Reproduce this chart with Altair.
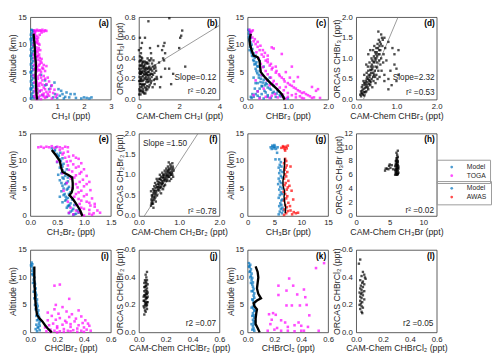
import altair as alt
import pandas as pd

FONT = "Liberation Sans"
BLUE = "#0072BD"
MAG = "#FF00FF"
RED = "#FF0000"
INK = "#262626"
W, H = 83, 85

# ---------------- data ----------------
# (a) CH3I profiles: (ppt, km)
A_MODEL = [(0.02,0.2),(0.06,0.4),(0.1,0.6),(0.04,0.9),(0.08,1.2),(0.12,1.5),(0.03,1.8),(0.07,2.1),(0.11,2.4),(0.05,2.7),(0.09,3.0),(0.02,3.3),(0.06,3.6),(0.1,3.9),(0.04,4.2),(0.08,4.5),(0.03,4.9),(0.07,5.2),(0.11,5.5),(0.05,5.8),(0.09,6.1),(0.02,6.4),(0.06,6.7),(0.1,7.0),(0.04,7.3),(0.08,7.6),(0.03,7.9),(0.07,8.2),(0.05,8.5),(0.09,8.8),(0.02,9.1),(0.06,9.4),(0.1,9.7),(0.04,10.0),(0.08,10.3),(0.03,10.6),(0.07,10.9),(0.05,11.2),(0.09,11.5),(0.02,11.8),(0.06,12.1),(0.1,12.4),(0.04,12.7),(0.08,12.6),(0.12,12.5),(0.01,2.0),(0.01,5.0),(0.01,8.0),(0.01,11.0),(0.13,0.3),
           (0.3,0.3),(0.45,0.8),(0.55,2.6),(0.55,3.5),(0.62,0.5),(0.7,1.9),(0.78,2.5),(0.85,0.4),(0.9,3.1),(0.92,1.0),(1.0,0.3),(1.05,1.9),(1.1,0.7),(1.2,1.0),(1.25,0.2),(1.3,0.5),(1.35,1.3),(1.45,0.4),(1.5,1.0),(1.65,1.0),(1.7,0.3),(1.9,0.2),(2.0,0.4),(2.1,0.3),(2.2,0.2),(2.28,0.4),(0.4,4.5),(0.35,1.5),(1.15,1.6),(0.6,2.7)]
A_TOGA = [(0.15,12.6),(0.2,12.5),(0.25,12.7),(0.3,12.5),(0.35,12.6),(0.4,12.5),(0.45,12.7),(0.5,12.4),(0.55,12.6),(0.6,12.5),(0.18,12.3),(0.42,12.2),
          (0.15,11.5),(0.25,11.0),(0.2,10.5),(0.3,10.2),(0.12,10.0),(0.22,9.5),(0.28,9.0),(0.18,8.5),(0.33,8.2),(0.25,8.0),(0.15,7.5),(0.3,7.2),(0.38,7.0),
          (0.14,11.9),(0.19,11.2),(0.27,10.7),(0.16,9.8),(0.31,9.4),(0.2,8.8),(0.13,8.2),(0.24,7.7),(0.35,7.6),(0.19,7.1),
          (0.2,6.8),(0.35,6.5),(0.5,6.3),(0.6,6.1),(0.25,6.0),(0.45,5.8),(0.15,5.5),(0.3,5.3),(0.55,5.2),(0.4,5.0),(0.14,6.3),(0.22,5.1),
          (0.2,4.7),(0.35,4.5),(0.5,4.3),(0.65,4.0),(0.28,3.8),(0.45,3.5),(0.7,3.3),(0.15,3.1),(0.38,3.0),(0.6,2.8),(0.8,2.6),(0.25,2.4),(0.5,2.2),(0.75,2.0),(0.9,1.8),(0.35,1.6),(0.6,1.4),(0.85,1.2),(0.2,1.0),(0.45,0.9),(0.7,0.7),(0.95,0.5),(0.3,0.4),(0.55,0.3),(0.8,0.2),(0.4,0.1),(0.65,1.0),(1.0,0.9),
          (0.13,4.4),(0.24,3.3),(0.18,2.0),(0.3,2.9),(0.15,0.6),(0.25,0.1),
          (0.17,12.0),(0.23,11.6),(0.29,11.3),(0.35,11.8),(0.13,10.7),(0.24,10.3),(0.34,10.0),(0.19,9.2),(0.27,8.6),(0.37,9.0),(0.16,8.0),(0.29,7.9),(0.42,7.4),(0.22,6.6),(0.32,6.2),(0.42,6.7),(0.18,5.8),(0.27,5.6),(0.37,5.4),(0.48,5.6),(0.17,4.0),(0.27,4.2),(0.4,4.0),(0.55,3.8),(0.21,2.8),(0.33,2.5),(0.45,2.7),(0.27,1.9),(0.42,1.7),(0.55,1.9),(0.17,1.5),(0.28,1.2),(0.5,1.1),(0.35,0.7),(0.6,0.5),(0.2,0.3),(0.72,1.4),(0.5,0.6)]
A_MEAN = [(0.25,0),(0.23,1),(0.22,2),(0.21,3),(0.2,4),(0.2,5),(0.21,6),(0.2,7),(0.18,8),(0.17,9),(0.16,10),(0.14,11),(0.12,12)]

# (b) CAM-Chem vs ORCAS CH3I
B_PTS = [(0.02,0.1),(0.05,0.15),(0.08,0.2),(0.1,0.25),(0.12,0.3),(0.15,0.35),(0.03,0.22),(0.06,0.28),(0.09,0.33),(0.11,0.38),(0.14,0.12),(0.18,0.18),(0.2,0.23),(0.22,0.28),(0.25,0.32),(0.28,0.37),(0.3,0.15),(0.33,0.2),(0.35,0.25),(0.38,0.3),(0.4,0.35),(0.42,0.1),(0.45,0.17),(0.48,0.22),(0.5,0.27),(0.52,0.32),(0.55,0.2),(0.58,0.25),(0.6,0.3),(0.04,0.33),(0.07,0.38),(0.13,0.08),(0.17,0.26),(0.19,0.31),(0.24,0.14),(0.27,0.21),(0.32,0.29),(0.36,0.09),(0.41,0.24),(0.46,0.3),(0.01,0.18),(0.16,0.4),(0.21,0.36),(0.26,0.06),(0.31,0.34),(0.37,0.17),(0.44,0.27),(0.53,0.14),(0.62,0.18),(0.7,0.24),(0.75,0.3),(0.8,0.2),(0.65,0.35),(0.05,0.42),(0.1,0.45),(0.02,0.3),(0.08,0.05),(0.23,0.19),(0.29,0.24),(0.34,0.11),(0.68,0.12),(0.72,0.38),(0.78,0.15),(0.85,0.28),(0.88,0.22),(0.64,0.25),(0.57,0.38),(0.49,0.12),(0.43,0.4),(0.39,0.19),(0.12,0.2),(0.06,0.25),(0.15,0.27),(0.27,0.3),(0.33,0.36),(0.2,0.1),(0.1,0.15),(0.03,0.37),(0.47,0.35),(0.54,0.24),
         (0.01,0.05),(0.04,0.08),(0.07,0.12),(0.09,0.09),(0.11,0.18),(0.13,0.22),(0.16,0.14),(0.19,0.07),(0.21,0.15),(0.23,0.33),(0.26,0.25),(0.28,0.12),(0.31,0.27),(0.34,0.31),(0.36,0.22),(0.39,0.36),(0.41,0.13),(0.44,0.2),(0.46,0.24),(0.48,0.31),(0.51,0.18),(0.56,0.29),(0.59,0.16),(0.63,0.22),(0.66,0.28),(0.69,0.32),(0.74,0.19),(0.77,0.26),(0.82,0.31),(0.06,0.18),(0.09,0.27),(0.14,0.33),(0.18,0.37),(0.22,0.08),(0.32,0.06),(0.38,0.26),(0.5,0.38),(0.61,0.4),(0.03,0.26),(0.12,0.41),
         (0.47,0.76),(1.51,0.79),(2.15,0.67),(2.1,0.62),(2.05,0.6),(1.27,0.55),(1.22,0.52),(1.3,0.45),(1.2,0.4),(1.0,0.36),(1.5,0.3),(1.7,0.25),(2.0,0.5),(0.1,0.5),(0.05,0.6),(0.3,0.6),(0.6,0.45),(0.8,0.33),(1.6,0.15),(2.3,0.32),(1.25,0.38),(0.9,0.2),(1.1,0.22),(0.95,0.52),(1.15,0.48),(0.15,0.55),(1.3,0.3),(0.55,0.5),(1.05,0.12),(0.0,0.48)]
B_FIT = [0.12, 0.24]   # slope, intercept

# (c) CHBr3 profiles
C_MODEL = [(0.02,12.7),(0.04,12.5),(0.06,12.3),(0.03,12.0),(0.05,11.6),(0.08,11.2),(0.04,10.8),(0.07,10.4),(0.1,10.0),(0.06,9.6),(0.12,9.2),(0.09,8.8),(0.15,8.4),(0.11,8.0),(0.18,7.6),(0.14,7.2),(0.22,6.8),(0.17,6.4),(0.26,6.0),(0.2,5.6),(0.3,5.2),(0.24,4.8),(0.35,4.4),(0.28,4.0),(0.4,3.6),(0.32,3.2),(0.48,2.8),(0.36,2.4),(0.55,2.0),(0.42,1.6),(0.62,1.2),(0.5,0.8),(0.7,0.5),(0.58,0.3),(0.15,0.5),(0.2,1.0),(0.25,1.5),(0.3,2.0),(0.35,2.5),(0.45,3.0),(0.5,3.5),(0.55,4.0),(0.12,1.0),(0.1,0.3),(0.8,0.8),(0.9,0.4),(1.0,0.2),(0.65,2.5),(0.05,9.0),(0.3,7.0),(0.2,8.0),(0.4,6.0),(0.08,0.5),(0.75,1.5),
           (0.03,11.3),(0.06,10.5),(0.08,9.7),(0.1,8.5),(0.13,7.9),(0.16,7.0),(0.2,6.5),(0.24,6.1),(0.22,5.2),(0.28,4.5),(0.33,3.8),(0.38,3.1),(0.43,2.6),(0.5,2.2),(0.58,1.8),(0.65,1.4),(0.72,1.1),(0.82,0.6),(0.25,0.7),(0.35,1.0),(0.45,1.3),(0.3,0.4),(0.4,0.2),(0.5,0.5),(0.18,2.0),(0.25,3.0),(0.15,4.0),(0.2,3.0)]
C_TOGA = [(0.05,12.7),(0.1,12.4),(0.08,11.8),(0.12,11.3),(0.15,10.6),(0.2,10.1),(0.25,9.6),(0.3,9.0),(0.22,8.6),(0.35,8.2),(0.4,7.8),(0.28,7.5),(0.45,7.1),(0.5,6.8),(0.33,6.5),(0.55,6.2),(0.38,5.9),(0.6,5.5),(0.45,5.2),(0.7,4.9),(0.5,4.6),(0.8,4.3),(0.58,4.0),(0.9,3.7),(0.65,3.4),(1.0,3.0),(0.72,2.8),(1.1,2.5),(0.8,2.2),(1.2,2.0),(0.9,1.7),(1.3,1.5),(1.0,1.2),(1.45,1.0),(1.1,0.8),(1.55,0.6),(1.2,0.4),(1.7,1.6),(1.75,1.9),(1.6,0.3),(0.3,0.2),(0.45,0.5),(0.6,0.7),(0.75,0.4),(0.95,0.2),(1.35,0.3),(0.25,1.5),(0.4,2.0),(0.55,2.6),(0.2,3.5),(0.35,4.5),(0.6,9.5),(0.65,9.3),(0.85,8.3),(0.5,8.0),(0.7,6.0),(0.95,5.0),(1.05,4.0),(1.15,3.3),(1.4,1.3),(0.15,0.8),(1.0,0.5),(0.68,1.0),(0.88,0.9),(1.1,6.0),(1.25,4.1),(1.6,2.3),
          (0.07,12.2),(0.13,12.6),(0.18,11.0),(0.25,10.5),(0.32,9.8),(0.38,9.0),(0.43,8.5),(0.5,7.3),(0.58,6.5),(0.62,5.8),(0.72,5.2),(0.78,4.6),(0.85,4.0),(0.92,3.3),(1.05,2.7),(1.15,2.2),(1.25,1.7),(1.35,1.2),(1.5,0.8),(1.3,0.6),(1.65,0.4),(1.4,0.2),(1.8,0.3),(1.2,1.0),(0.85,0.6),(0.55,0.3),(0.75,1.8),(0.95,2.3),(0.62,3.0),(0.48,3.5)]
C_MEAN = [(0.92,0),(0.85,1),(0.72,2),(0.57,3),(0.44,4),(0.33,5),(0.31,6),(0.3,7),(0.25,7.7),(0.15,8),(0.1,9),(0.06,10),(0.05,11),(0.08,12)]

# (d) CHBr3 scatter
D_PTS = [(0.1,0.12),(0.12,0.2),(0.15,0.15),(0.18,0.25),(0.2,0.1),(0.14,0.3),(0.22,0.35),(0.25,0.2),(0.2,0.4),(0.28,0.3),(0.24,0.45),(0.3,0.5),(0.32,0.38),(0.27,0.55),(0.35,0.6),(0.3,0.7),(0.38,0.5),(0.4,0.75),(0.36,0.8),(0.42,0.65),(0.45,0.9),(0.4,0.95),(0.48,0.8),(0.44,1.05),(0.5,1.0),(0.47,1.15),(0.52,0.9),(0.5,1.25),(0.55,1.1),(0.53,1.35),(0.58,1.3),(0.56,1.45),(0.6,1.2),(0.45,1.3),(0.38,1.0),(0.33,0.9),(0.26,0.65),(0.18,0.45),(0.16,0.35),(0.12,0.08),(0.3,0.25),(0.35,0.35),(0.43,0.45),(0.5,0.6),(0.55,0.7),(0.6,0.85),(0.48,0.4),(0.4,0.3),(0.58,0.55),(0.62,1.0),
         (0.15,0.22),(0.19,0.18),(0.21,0.28),(0.23,0.4),(0.26,0.5),(0.28,0.42),(0.31,0.6),(0.33,0.55),(0.35,0.72),(0.37,0.65),(0.39,0.85),(0.41,0.8),(0.43,0.92),(0.46,1.0),(0.49,1.1),(0.51,1.15),(0.54,1.25),(0.57,1.2),(0.59,1.4),(0.61,1.35),(0.64,1.5),(0.66,1.45),(0.42,1.2),(0.47,0.55),(0.53,0.5),(0.57,0.95),(0.63,0.7),(0.67,0.9),(0.29,0.8),(0.22,0.18),(0.17,0.12),(0.13,0.15),(0.36,0.42),(0.44,0.6),(0.48,0.95),(0.38,0.72),(0.32,0.47),(0.27,0.36),(0.52,1.05),(0.58,1.1),
         (0.9,1.25),(1.05,1.2),(0.95,1.1),(1.0,0.75),(0.85,0.7),(0.7,0.45),(0.8,0.5),(0.55,1.65),(0.62,1.58),(0.7,1.5),(1.0,0.45),(0.8,0.25),(0.7,0.6),(0.75,0.95),(0.68,1.1),(0.88,0.35),(0.2,0.6),(0.25,0.85),(0.3,1.1),(0.35,1.2),(0.65,1.3),(0.72,1.25),(0.8,1.4),(1.05,0.6),(0.95,0.85),(0.25,0.3),(0.34,0.45),(0.42,0.55),(0.46,0.7),(0.52,0.78)]
D_FIT = [2.32, -0.41]

# (e) CH2Br2 profiles
E_MODEL = [(0.4,12.3),(0.45,11.8),(0.5,11.3),(0.52,10.8),(0.55,10.3),(0.5,9.8),(0.58,9.3),(0.55,8.8),(0.6,8.3),(0.58,7.8),(0.65,7.3),(0.62,6.8),(0.7,6.3),(0.65,5.8),(0.72,5.3),(0.68,4.8),(0.75,4.3),(0.62,3.8),(0.7,3.3),(0.65,2.8),(0.75,2.3),(0.7,1.8),(0.8,1.3),(0.75,0.8),(0.85,0.4),(0.8,0.2),(0.9,0.6),(0.6,10.5),(0.62,9.5),(0.68,8.5),(0.55,6.5),(0.6,5.5),(0.58,4.5),(0.55,3.5),(0.6,2.5),(0.68,1.5),(0.72,0.5),(0.48,12.5),(0.52,7.5),(0.78,3.0),(0.82,2.0),(0.88,1.0),(0.64,4.0),(0.7,7.0),
           (0.46,12.0),(0.53,11.0),(0.57,10.0),(0.6,9.0),(0.64,8.0),(0.6,7.0),(0.67,6.0),(0.7,5.0),(0.72,4.0),(0.67,3.0),(0.72,2.0),(0.78,1.0),(0.82,0.3),(0.58,6.0),(0.62,5.0),(0.66,3.5),(0.73,1.8),(0.56,11.5)]
E_TOGA = [(0.15,12.5),(0.2,12.6),(0.25,12.4),(0.3,12.6),(0.35,12.5),(0.4,12.7),(0.45,12.4),(0.5,12.6),(0.55,12.5),(0.6,12.3),(0.65,12.6),(0.7,12.5),
          (0.55,12.0),(0.7,11.7),(0.6,11.2),(0.8,11.0),(0.65,10.6),(0.9,10.4),(0.75,10.0),(0.95,9.6),(0.7,9.2),(0.85,8.8),(1.0,8.5),(0.78,8.1),(0.92,7.7),(1.05,7.3),(0.82,7.0),(0.98,6.6),(1.1,6.2),(0.85,5.8),(1.0,5.4),(0.78,5.0),(1.12,4.7),(0.9,4.3),(1.05,3.9),(0.82,3.5),(1.15,3.2),(0.95,2.8),(1.1,2.4),(0.85,2.0),(1.2,1.7),(1.0,1.3),(1.25,1.0),(0.9,0.7),(1.1,0.4),(1.3,0.6),(0.8,0.3),(1.0,0.1),(0.75,1.5),(0.7,2.6),(0.62,4.6),(0.68,6.0),(0.6,7.8),(0.5,9.9),(1.15,0.2),(1.2,2.2),
          (0.62,11.5),(0.72,10.8),(0.85,10.6),(0.68,9.9),(0.8,9.4),(0.9,9.0),(0.72,8.4),(0.95,8.0),(0.85,7.4),(0.75,6.8),(0.92,6.2),(1.05,5.8),(0.88,5.2),(0.95,4.6),(0.85,4.0),(1.0,3.6),(0.9,3.1),(1.05,2.6),(0.92,2.2),(1.12,1.9),(0.95,1.5),(1.1,1.1),(0.85,1.0),(1.18,0.5),(0.95,0.4),(0.72,0.6)]
E_MEAN = [(0.97,0),(0.93,1),(0.87,2),(0.8,3),(0.73,3.8),(0.77,4.3),(0.79,5),(0.79,6),(0.78,7),(0.7,7.5),(0.6,8),(0.57,9),(0.55,10),(0.48,11),(0.4,12)]

# (f) CH2Br2 scatter
F_PTS = [(0.3,0.25),(0.32,0.35),(0.35,0.3),(0.33,0.45),(0.38,0.4),(0.36,0.55),(0.4,0.5),(0.3,0.6),(0.35,0.65),(0.42,0.6),(0.38,0.72),(0.45,0.7),(0.4,0.8),(0.48,0.65),(0.5,0.75),(0.46,0.85),(0.52,0.8),(0.55,0.7),(0.5,0.9),(0.57,0.85),(0.55,0.95),(0.6,0.8),(0.6,0.92),(0.62,1.0),(0.58,1.05),(0.65,0.9),(0.66,1.05),(0.68,0.95),(0.7,1.1),(0.72,1.0),(0.74,1.12),(0.75,0.95),(0.78,1.05),(0.8,1.15),(0.82,1.05),(0.84,1.2),(0.78,1.25),(0.72,1.2),(0.85,0.95),(0.8,0.9),(0.7,0.85),(0.65,0.75),(0.6,0.65),(0.55,0.55),(0.45,0.5),(0.42,0.35),(0.36,0.2),(0.32,0.5),(0.44,0.9),(0.52,1.0),(0.62,0.72),(0.68,1.15),(0.76,0.85),(0.86,1.1),(0.33,0.3),(0.39,0.62),(0.47,0.78),(0.53,0.68),(0.58,0.78),(0.63,0.88),(0.74,1.3),(0.83,1.28),
         (0.31,0.4),(0.34,0.5),(0.37,0.45),(0.39,0.55),(0.41,0.68),(0.43,0.75),(0.46,0.62),(0.49,0.82),(0.51,0.7),(0.54,0.88),(0.56,0.8),(0.59,0.95),(0.61,0.85),(0.63,0.95),(0.64,1.1),(0.67,1.0),(0.69,0.9),(0.71,1.05),(0.73,0.95),(0.75,1.15),(0.77,1.0),(0.79,1.2),(0.81,1.1),(0.83,1.0),(0.85,1.15),(0.34,0.38),(0.37,0.6),(0.4,0.45),(0.43,0.55),(0.47,0.7),(0.5,0.62),(0.53,0.9),(0.56,0.75),(0.6,1.0),(0.66,0.85),(0.7,0.98),(0.73,1.08),(0.76,1.05),(0.8,1.0),(0.31,0.3)]
F_FIT = [1.50, -0.2]

# (g) CH3Br profiles
G_MODEL = [(5.8,0.3),(6.0,0.8),(6.2,1.3),(5.9,1.8),(6.1,2.3),(6.3,2.8),(5.8,3.3),(6.0,3.8),(6.2,4.3),(5.9,4.8),(6.1,5.3),(5.7,5.8),(6.0,6.3),(5.8,6.8),(6.2,7.3),(5.9,7.8),(6.1,8.3),(5.8,8.8),(6.0,9.3),(6.2,9.8),(5.9,10.3),(5.2,10.3),(5.5,11.5),(6.4,0.5),(6.5,1.5),(6.3,2.0),(6.5,3.0),(6.4,4.0),(6.5,5.0),(6.3,6.0),(6.4,7.0),(6.5,8.0),(6.3,9.0),(6.6,1.0),
           (4.3,12.5),(4.6,12.8),(4.9,12.3),(5.1,12.6),(5.3,12.2),(4.5,12.2),(5.0,12.9),(5.6,12.5),(4.8,12.6)]
G_AWAS = [(6.8,0.2),(7.2,0.5),(7.5,0.9),(6.9,1.2),(7.3,1.6),(7.0,2.0),(7.6,2.4),(6.8,2.8),(7.2,3.2),(7.4,3.6),(7.0,4.0),(6.7,4.4),(7.3,4.8),(7.5,5.2),(6.9,5.6),(7.1,6.0),(7.6,6.4),(6.8,6.8),(7.2,7.2),(7.0,7.6),(7.4,8.0),(6.9,8.4),(7.1,8.8),(7.3,9.2),(6.8,9.6),(7.2,10.0),(7.0,10.4),(8.0,1.0),(8.3,0.3),(8.6,0.7),(9.0,0.5),(9.4,0.6),(8.5,3.0),(8.2,4.6),(7.8,5.5),(8.0,9.0),(7.9,1.8),
          (6.3,12.4),(6.6,12.7),(6.9,12.2),(7.1,12.6),(7.3,12.3),(7.5,12.8),(6.7,12.5),(7.0,11.9)]
G_MEAN = [(7.0,0.5),(7.1,1.5),(6.9,2.5),(6.8,3.5),(6.9,4.5),(6.6,5.5),(6.6,6.5),(6.8,7.5),(6.8,8.5),(6.9,9.5),(6.9,10.5)]

# (h) CH3Br scatter
H_PTS = [(5.8,6.0),(6.0,6.2),(6.2,6.1),(5.9,6.4),(6.1,6.5),(6.3,6.3),(5.8,6.7),(6.0,6.8),(6.2,6.6),(5.9,7.0),(6.1,7.1),(6.3,6.9),(6.0,7.3),(6.2,7.4),(5.9,7.6),(6.1,7.7),(6.0,7.9),(6.2,8.0),(6.1,8.2),(6.0,8.4),(6.2,8.6),(6.1,8.9),(6.0,9.2),(6.2,9.5),(5.9,8.0),(6.3,7.2),(5.8,7.3),(6.1,6.0),(6.2,6.2),
         (6.0,6.0),(5.9,6.2),(6.1,6.8),(6.0,7.5),(6.1,7.4),(6.2,7.8),(6.0,8.1),(6.1,8.5),(5.9,6.6),(6.2,7.0),
         (4.3,6.6),(4.6,6.9),(4.9,7.3),(5.1,7.0),(5.3,7.4),(5.5,6.8),(4.8,6.8),(5.0,7.5),(4.4,6.9)]

# (i) CHClBr2 profiles
I_MODEL = [(0.01,12.7),(0.015,12.4),(0.01,12.0),(0.02,11.6),(0.015,11.2),(0.025,10.8),(0.02,10.4),(0.03,10.0),(0.025,9.6),(0.03,9.2),(0.035,8.8),(0.03,8.4),(0.04,8.0),(0.035,7.6),(0.04,7.2),(0.045,6.8),(0.04,6.4),(0.05,6.0),(0.045,5.6),(0.05,5.2),(0.055,4.8),(0.05,4.4),(0.06,4.0),(0.055,3.6),(0.06,3.2),(0.065,2.8),(0.06,2.4),(0.07,2.0),(0.065,1.6),(0.07,1.2),(0.06,0.8),(0.07,0.4),(0.05,0.2),(0.055,1.0),(0.05,2.2),(0.045,3.0),(0.04,4.2),(0.035,5.0),(0.03,6.2),(0.025,7.4),(0.02,9.0),(0.015,10.6),(0.005,12.2),(0.045,1.4),(0.04,0.6)]
I_TOGA = [(0.12,0.2),(0.15,0.5),(0.18,0.3),(0.2,0.8),(0.22,0.2),(0.25,0.6),(0.28,0.3),(0.3,1.0),(0.32,0.4),(0.35,0.7),(0.38,0.3),(0.4,0.9),(0.42,0.5),(0.45,0.3),(0.44,1.2),(0.14,1.3),(0.17,1.6),(0.2,1.1),(0.24,1.4),(0.27,1.8),(0.3,1.5),(0.33,2.0),(0.36,1.3),(0.39,1.7),(0.41,2.2),(0.19,2.3),(0.22,2.6),(0.26,2.1),(0.29,2.8),(0.34,2.5),(0.38,2.9),(0.16,3.0),(0.13,2.2),(0.21,3.4),(0.31,3.3),(0.27,3.8),(0.18,4.2),(0.36,4.0),(0.24,4.6),(0.29,6.1),(0.18,8.5),(0.22,8.7),(0.19,5.0),(0.11,0.9),(0.13,3.6),(0.4,0.1),(0.35,0.1),(0.25,0.1),(0.15,0.1),(0.2,0.0),(0.3,0.2),(0.43,1.6)]
I_MEAN = [(0.16,0),(0.13,0.7),(0.11,1.3),(0.09,2),(0.07,2.5),(0.05,3.2),(0.045,4),(0.04,5),(0.037,6),(0.035,7),(0.033,8),(0.032,9),(0.03,10),(0.03,11),(0.03,12)]

# (j) CHClBr2 scatter
J_PTS = [(0.04,0.13),(0.05,0.15),(0.06,0.17),(0.035,0.19),(0.045,0.2),(0.055,0.21),(0.065,0.22),(0.04,0.23),(0.05,0.24),(0.06,0.25),(0.035,0.26),(0.045,0.27),(0.055,0.28),(0.065,0.29),(0.04,0.3),(0.05,0.31),(0.06,0.32),(0.045,0.33),(0.055,0.34),(0.065,0.35),(0.04,0.36),(0.05,0.37),(0.06,0.38),(0.055,0.4),(0.05,0.42),(0.06,0.44),(0.04,0.18),(0.06,0.2),(0.045,0.22),(0.055,0.25),(0.05,0.29),(0.06,0.3),(0.04,0.33),(0.065,0.26),(0.035,0.23),
         (0.045,0.16),(0.055,0.19),(0.05,0.21),(0.04,0.27),(0.06,0.28),(0.05,0.34),(0.045,0.38),(0.055,0.36),(0.05,0.26),(0.06,0.22)]

# (k) CHBrCl2 profiles
K_MODEL = [(0.01,12.6),(0.02,12.3),(0.015,11.9),(0.025,11.5),(0.02,11.1),(0.03,10.7),(0.025,10.3),(0.035,9.9),(0.03,9.5),(0.04,9.1),(0.035,8.7),(0.04,8.3),(0.045,7.9),(0.04,7.5),(0.05,7.1),(0.045,6.7),(0.05,6.3),(0.04,5.9),(0.045,5.5),(0.05,5.1),(0.04,4.7),(0.045,4.3),(0.05,3.9),(0.04,3.5),(0.045,3.1),(0.05,2.7),(0.04,2.3),(0.045,1.9),(0.05,1.5),(0.04,1.1),(0.045,0.7),(0.05,0.3),(0.035,0.5),(0.03,1.5),(0.035,3.0),(0.03,4.5),(0.035,6.0),(0.03,7.5),(0.025,9.0),(0.02,10.0),(0.015,11.0),(0.01,12.0),(0.055,2.0),(0.055,4.0)]
K_TOGA = [(0.57,12.6),(0.51,11.7),(0.31,9.8),(0.23,8.5),(0.29,7.6),(0.34,8.5),(0.42,7.8),(0.23,6.8),(0.37,6.9),(0.43,6.4),(0.29,4.9),(0.33,4.9),(0.39,4.9),(0.44,5.0),(0.46,3.1),(0.16,3.3),(0.19,3.5),(0.21,3.2),(0.18,2.3),(0.25,2.2),(0.28,1.8),(0.17,1.5),(0.38,1.8),(0.35,1.3),(0.3,1.0),(0.22,0.8),(0.2,0.5),(0.25,0.3),(0.3,0.3),(0.35,0.2),(0.4,0.3),(0.42,0.3),(0.53,0.3),(0.15,0.3),(0.45,1.0),(0.4,1.2)]
K_MEAN = [(0.09,0),(0.075,0.8),(0.06,1.5),(0.06,2.5),(0.065,3.5),(0.07,4.2),(0.05,4.8),(0.045,5.3),(0.07,5.8),(0.1,6.2),(0.08,7),(0.07,8),(0.075,9),(0.08,10),(0.075,11),(0.06,12)]

# (l) CHBrCl2 scatter
L_PTS = [(0.03,0.53),(0.02,0.5),(0.05,0.44),(0.06,0.42),(0.04,0.41),(0.065,0.4),(0.07,0.39),(0.03,0.38),(0.05,0.37),(0.045,0.36),(0.06,0.35),(0.035,0.34),(0.05,0.33),(0.03,0.32),(0.04,0.31),(0.06,0.3),(0.025,0.29),(0.045,0.29),(0.035,0.28),(0.05,0.27),(0.03,0.26),(0.04,0.25),(0.06,0.24),(0.03,0.23),(0.045,0.22),(0.035,0.21),(0.025,0.2),(0.04,0.19),(0.05,0.18),(0.03,0.17),(0.045,0.14),(0.04,0.15)]

# ---------------- chart helpers ----------------
def make_legend(y):
    return alt.Legend(title=None, orient="none", legendX=419, legendY=y,
                      symbolType="circle", symbolSize=8, labelFontSize=7,
                      strokeColor="#9a9a9a", padding=4, rowPadding=1,
                      symbolOffset=8, labelOffset=12)


TOGA_LEGEND = make_legend(147)
AWAS_LEGEND = make_legend(169)


def label_layer(txt):
    return alt.Chart(pd.DataFrame({"t": [txt]})).mark_text(
        align="right", baseline="middle", font=FONT, fontSize=8.5, fontWeight="bold", color="black"
    ).encode(x=alt.value(W - 2), y=alt.value(6), text="t:N")


def xy(xdom, ydom, xticks, yticks, xtitle, ytitle):
    return dict(
        x=alt.X("x:Q", scale=alt.Scale(domain=xdom, nice=False, zero=False),
                axis=alt.Axis(values=xticks, title=xtitle)),
        y=alt.Y("y:Q", scale=alt.Scale(domain=ydom, nice=False, zero=False),
                axis=alt.Axis(values=yticks, title=ytitle)),
    )


def profile(model, obs, obs_name, mean, xdom, xticks, xtitle, lab, awas=False, lw=2.4):
    rows = [{"x": a, "y": b, "src": "Model"} for a, b in model] + \
           [{"x": a, "y": b, "src": obs_name} for a, b in obs]
    df = pd.DataFrame(rows)
    enc = xy(xdom, [0, 15], xticks, [0, 5, 10, 15], xtitle, "Altitude (km)")
    if awas:
        col = alt.Fill("src:N", scale=alt.Scale(domain=["Model", "AWAS"], range=[BLUE, RED]),
                       legend=AWAS_LEGEND)
        pts = alt.Chart(df).mark_square(size=7, strokeWidth=0).encode(fill=col, **enc)
    else:
        col = alt.Color("src:N", scale=alt.Scale(domain=["Model", "TOGA"], range=[BLUE, MAG]),
                        legend=TOGA_LEGEND)
        pts = alt.Chart(df).mark_square(size=7, strokeWidth=0).encode(color=col, **enc)
    mdf = pd.DataFrame({"x": [p[0] for p in mean], "y": [p[1] for p in mean],
                        "o": list(range(len(mean)))})
    line = alt.Chart(mdf).mark_line(color="black", strokeWidth=lw).encode(
        order="o:Q", **xy(xdom, [0, 15], xticks, [0, 5, 10, 15], xtitle, "Altitude (km)"))
    return alt.layer(pts, line, label_layer(lab)).properties(width=W, height=H)


def scatter(ptsl, xdom, ydom, xticks, yticks, xtitle, ytitle, lab, fit=None, notes=()):
    df = pd.DataFrame({"x": [p[0] for p in ptsl], "y": [p[1] for p in ptsl]})
    layers = []
    if fit is not None:
        m, b = fit
        x0 = max(xdom[0], (ydom[0] - b) / m)
        x1 = min(xdom[1], (ydom[1] - b) / m)
        fdf = pd.DataFrame({"x": [x0, x1], "y": [m * x0 + b, m * x1 + b]})
        layers.append(alt.Chart(fdf).mark_line(color="#7f7f7f", strokeWidth=0.8, clip=True).encode(
            **xy(xdom, ydom, xticks, yticks, xtitle, ytitle)))
    layers.append(alt.Chart(df).mark_square(size=6, strokeWidth=0, color="black").encode(
        **xy(xdom, ydom, xticks, yticks, xtitle, ytitle)))
    for (tx, ty, t, al) in notes:
        ndf = pd.DataFrame({"x": [tx], "y": [ty], "t": [t]})
        layers.append(alt.Chart(ndf).mark_text(align=al, baseline="middle", font=FONT,
                                              fontSize=8.5, color=INK).encode(
            text="t:N", **xy(xdom, ydom, xticks, yticks, xtitle, ytitle)))
    layers.append(label_layer(lab))
    return alt.layer(*layers).properties(width=W, height=H)


pa = profile(A_MODEL, A_TOGA, "TOGA", A_MEAN, [0, 3], [0, 1, 2, 3], "CH₃I (ppt)", "(a)")
pb = scatter(B_PTS, [0, 4], [0, 0.8], [0, 2, 4], [0, 0.2, 0.4, 0.6, 0.8],
             "CAM-Chem CH₃I (ppt)", "ORCAS CH₃I (ppt)", "(b)", fit=B_FIT,
             notes=[(3.85, 0.22, "Slope=0.12", "right"), (3.85, 0.085, "r² =0.20", "right")])
pc = profile(C_MODEL, C_TOGA, "TOGA", C_MEAN, [0, 2], [0, 1, 2], "CHBr₃ (ppt)", "(c)")
pd_ = scatter(D_PTS, [0, 2], [0, 2], [0, 1, 2], [0, 0.5, 1, 1.5, 2],
              "CAM-Chem CHBr₃ (ppt)", "ORCAS CHBr₃ (ppt)", "(d)", fit=D_FIT,
              notes=[(1.95, 0.55, "Slope=2.32", "right"), (1.95, 0.19, "r² =0.53", "right")])
pe = profile(E_MODEL, E_TOGA, "TOGA", E_MEAN, [0, 1.5], [0, 0.5, 1, 1.5], "CH₂Br₂ (ppt)", "(e)")
pf = scatter(F_PTS, [0, 2], [0, 2], [0, 1, 2], [0, 0.5, 1, 1.5, 2],
             "CAM-Chem CH₂Br₂ (ppt)", "ORCAS CH₂Br₂ (ppt)", "(f)", fit=F_FIT,
             notes=[(0.1, 1.78, "Slope =1.50", "left"), (1.93, 0.13, "r² =0.78", "right")])
pg = profile(G_MODEL, G_AWAS, "AWAS", G_MEAN, [0, 15], [0, 5, 10, 15], "CH₃Br (ppt)", "(g)",
             awas=True, lw=1.5)
ph = scatter(H_PTS, [0, 12], [0, 12], [0, 5, 10], [0, 2, 4, 6, 8, 10, 12],
             "CAM-Chem CH₃Br (ppt)", "ORCAS CH₃Br (ppt)", "(h)",
             notes=[(11.6, 0.8, "r² =0.02", "right")])
pi = profile(I_MODEL, I_TOGA, "TOGA", I_MEAN, [0, 0.6], [0, 0.2, 0.4, 0.6], "CHClBr₂ (ppt)", "(i)")
pj = scatter(J_PTS, [0, 0.6], [0, 0.6], [0, 0.2, 0.4, 0.6], [0, 0.2, 0.4, 0.6],
             "CAM-Chem CHClBr₂ (ppt)", "ORCAS CHClBr₂ (ppt)", "(j)",
             notes=[(0.575, 0.065, "r2 =0.07", "right")])
pk = profile(K_MODEL, K_TOGA, "TOGA", K_MEAN, [0, 0.6], [0, 0.2, 0.4, 0.6], "CHBrCl₂ (ppt)", "(k)")
pl = scatter(L_PTS, [0, 0.6], [0, 0.6], [0, 0.2, 0.4, 0.6], [0, 0.2, 0.4, 0.6],
             "CAM-Chem CHBrCl₂ (ppt)", "ORCAS CHBrCl₂ (ppt)", "(l)",
             notes=[(0.575, 0.065, "r2 =0.05", "right")])

chart = alt.concat(pa, pb, pc, pd_, pe, pf, pg, ph, pi, pj, pk, pl,
                   columns=4, spacing={"row": 35, "column": 29}, bounds="flush").properties(
    padding={"left": 0, "top": -1, "right": 0, "bottom": 0},
    background="white",
).configure_view(
    stroke="#333333", strokeWidth=0.8
).configure_axis(
    labelFont=FONT, titleFont=FONT, labelFontSize=8, titleFontSize=9,
    titleFontWeight="normal", labelColor=INK, titleColor=INK,
    ticks=False, domain=False, grid=False,
    labelFlush=False, labelOverlap=False
).configure_axisX(
    labelPadding=3, titlePadding=1
).configure_axisY(
    labelPadding=4, titlePadding=0
).configure_legend(
    labelFont=FONT, labelColor=INK
)

chart.save("out.html", embed_options={"renderer": "svg", "actions": False})
